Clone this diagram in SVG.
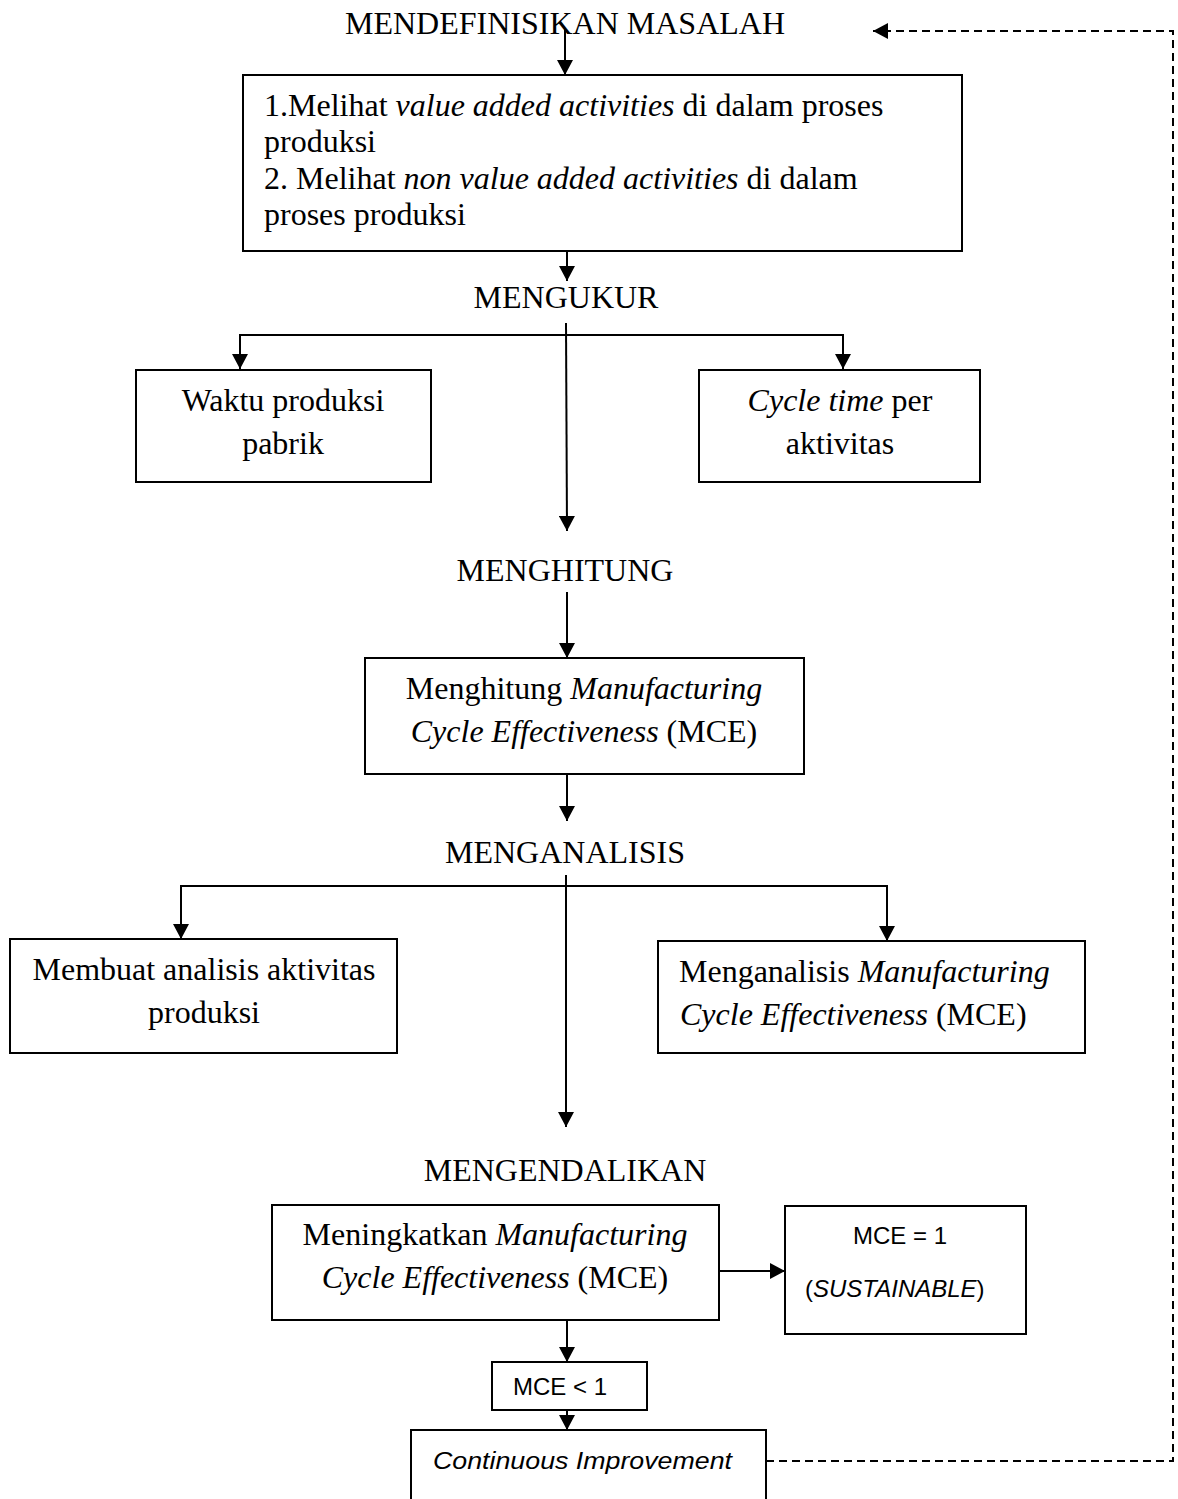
<svg xmlns="http://www.w3.org/2000/svg" width="1178" height="1499" viewBox="0 0 1178 1499">
<style>
.t{font-family:"Liberation Serif","Times New Roman",serif;font-size:32px;fill:#000}
.c{font-family:"Liberation Sans",Arial,sans-serif;font-size:24px;fill:#000}
.box{fill:#fff;stroke:#000;stroke-width:2}
.ln{fill:none;stroke:#000;stroke-width:2}
.ds{fill:none;stroke:#000;stroke-width:2;stroke-dasharray:8,5}
</style>
<defs>
<marker id="ah" viewBox="0 0 15 16" refX="15" refY="8" markerWidth="15" markerHeight="16" markerUnits="userSpaceOnUse" orient="auto">
<path d="M0,0 L15,8 L0,16 z" fill="#000"/>
</marker>
</defs>
<rect width="1178" height="1499" fill="#fff"/>
<g id="connectors">
<line class="ln" x1="565" y1="28" x2="565" y2="75" marker-end="url(#ah)"/>
<line class="ln" x1="567" y1="251" x2="567" y2="281" marker-end="url(#ah)"/>
<line class="ln" x1="566" y1="323" x2="567" y2="531" marker-end="url(#ah)"/>
<polyline class="ln" points="566,335 240,335 240,369" marker-end="url(#ah)"/>
<polyline class="ln" points="566,335 843,335 843,369" marker-end="url(#ah)"/>
<line class="ln" x1="567" y1="592" x2="567" y2="658" marker-end="url(#ah)"/>
<line class="ln" x1="567" y1="774" x2="567" y2="821" marker-end="url(#ah)"/>
<line class="ln" x1="566" y1="875" x2="566" y2="1127" marker-end="url(#ah)"/>
<polyline class="ln" points="566,886 181,886 181,939" marker-end="url(#ah)"/>
<polyline class="ln" points="566,886 887,886 887,941" marker-end="url(#ah)"/>
<line class="ln" x1="719" y1="1271" x2="785" y2="1271" marker-end="url(#ah)"/>
<line class="ln" x1="567" y1="1320" x2="567" y2="1362" marker-end="url(#ah)"/>
<line class="ln" x1="567" y1="1410" x2="567" y2="1430" marker-end="url(#ah)"/>
<polyline class="ds" points="766,1461 1173,1461 1173,31 873,31" marker-end="url(#ah)"/>
</g>
<g id="n-define">
<text class="t" x="565" y="34" text-anchor="middle">MENDEFINISIKAN MASALAH</text>
</g>
<g id="n-box1">
<rect class="box" x="243" y="75" width="719" height="176"/>
<text class="t" x="264" y="116">1.Melihat <tspan font-style="italic">value added activities</tspan> di dalam proses</text>
<text class="t" x="264" y="152">produksi</text>
<text class="t" x="264" y="189">2.  Melihat <tspan font-style="italic">non value added activities</tspan> di dalam</text>
<text class="t" x="264" y="225">proses produksi</text>
</g>
<g id="n-mengukur">
<text class="t" x="566" y="308" text-anchor="middle">MENGUKUR</text>
</g>
<g id="n-waktu">
<rect class="box" x="136" y="370" width="295" height="112"/>
<text class="t" x="283" y="411" text-anchor="middle">Waktu produksi</text>
<text class="t" x="283" y="454" text-anchor="middle">pabrik</text>
</g>
<g id="n-cycle">
<rect class="box" x="699" y="370" width="281" height="112"/>
<text class="t" x="840" y="411" text-anchor="middle"><tspan font-style="italic">Cycle time</tspan> per</text>
<text class="t" x="840" y="454" text-anchor="middle">aktivitas</text>
</g>
<g id="n-menghitung">
<text class="t" x="565" y="581" text-anchor="middle">MENGHITUNG</text>
</g>
<g id="n-mce1">
<rect class="box" x="365" y="658" width="439" height="116"/>
<text class="t" x="584" y="699" text-anchor="middle">Menghitung <tspan font-style="italic">Manufacturing</tspan></text>
<text class="t" x="584" y="742" text-anchor="middle"><tspan font-style="italic">Cycle Effectiveness</tspan> (MCE)</text>
</g>
<g id="n-menganalisis">
<text class="t" x="565" y="863" text-anchor="middle">MENGANALISIS</text>
</g>
<g id="n-analisis">
<rect class="box" x="10" y="939" width="387" height="114"/>
<text class="t" x="204" y="980" text-anchor="middle">Membuat analisis aktivitas</text>
<text class="t" x="204" y="1023" text-anchor="middle">produksi</text>
</g>
<g id="n-mce2">
<rect class="box" x="658" y="941" width="427" height="112"/>
<text class="t" x="679" y="982">Menganalisis <tspan font-style="italic">Manufacturing</tspan></text>
<text class="t" x="680" y="1025"><tspan font-style="italic">Cycle Effectiveness</tspan> (MCE)</text>
</g>
<g id="n-mengendalikan">
<text class="t" x="565" y="1181" text-anchor="middle">MENGENDALIKAN</text>
</g>
<g id="n-mce3">
<rect class="box" x="272" y="1205" width="447" height="115"/>
<text class="t" x="495" y="1245" text-anchor="middle">Meningkatkan <tspan font-style="italic">Manufacturing</tspan></text>
<text class="t" x="495" y="1288" text-anchor="middle"><tspan font-style="italic">Cycle Effectiveness</tspan> (MCE)</text>
</g>
<g id="n-sustain">
<rect class="box" x="785" y="1206" width="241" height="128"/>
<text class="c" x="900" y="1244" text-anchor="middle">MCE = 1</text>
<text class="c" x="805" y="1297">(<tspan font-style="italic">SUSTAINABLE</tspan>)</text>
</g>
<g id="n-less">
<rect class="box" x="492" y="1362" width="155" height="48"/>
<text class="c" x="513" y="1395">MCE &lt; 1</text>
</g>
<g id="n-ci">
<rect class="box" x="411" y="1430" width="355" height="80"/>
<text class="c" x="433" y="1469" font-style="italic" textLength="299" lengthAdjust="spacingAndGlyphs">Continuous Improvement</text>
</g>
</svg>
